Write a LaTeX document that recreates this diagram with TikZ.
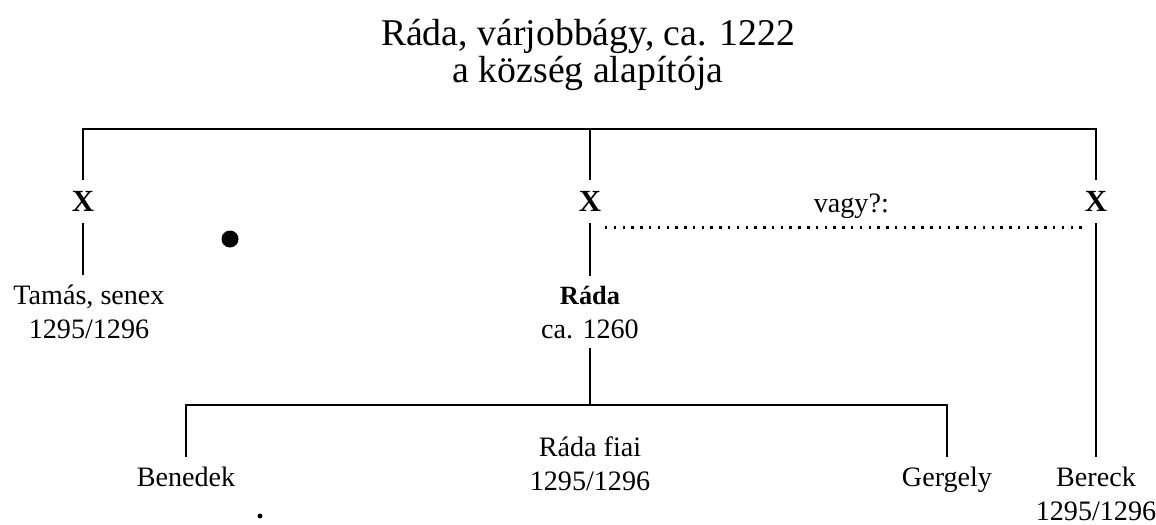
\documentclass[tikz,border=0pt]{standalone}
\usepackage{fontspec}
\setmainfont{Liberation Serif}
\usetikzlibrary{calc}

\begin{document}
\begin{tikzpicture}[x=0.02cm, y=-0.02cm,
    title/.style={anchor=base, align=center, inner sep=0pt,
                  font=\fontsize{21.5}{19.3}\selectfont},
    person/.style={anchor=base, align=center, inner sep=5.2pt,
                   font=\fontsize{16}{19.3}\selectfont},
    xnode/.style={inner sep=0pt, minimum height=0.86cm,
                  font=\fontsize{17.5}{20}\bfseries\selectfont},
    line/.style={line width=1.4pt},
    dotline/.style={line width=1.4pt, dash pattern=on 1.4pt off 3.6pt}]

\useasboundingbox (0,0) rectangle (1156,524);

% head of the family (base = last line)
\node (founder) [title] at (588,82) {Ráda, várjobbágy, ca. 1222\\a község alapítója};
\coordinate (top) at (590,129);

% first generation (unknown names)
\node (xl) [xnode] at (83,201.5)   {X};
\node (xm) [xnode] at (590,201.5)  {X};
\node (xr) [xnode] at (1096,201.5) {X};

\node (tamas)  [person] at (89,338)   {Tamás, senex\\1295/1296};
\node (rada)   [person] at (590,338)  {{\fontsize{15}{19.3}\bfseries\selectfont Ráda}\\ca. 1260};
\node (bereck) [person] at (1096,520) {Bereck\\1295/1296};

% sons of Ráda
\coordinate (kids) at (590,405);
\node (benedek) [person] at (186,486) {Benedek};
\node (gergely) [person] at (947,486) {Gergely};
\node (fiai)    [person] at (590,490) {Ráda fiai\\1295/1296};

\draw [line] (xl.north) |- (top) -| (xr.north);
\draw [line] (top) -- (xm.north);
\draw [line] (xl.south) -- (xl.south |- tamas.north);
\draw [line] (xm.south) -- (xm.south |- rada.north);
\draw [line] (xr.south) -- (xr.south |- bereck.north);
\draw [line] (rada.south -| kids) -- (kids);
\draw [line] (benedek.north) |- (kids) -| (gergely.north);

\draw [dotline] ([shift={(15,4)}]xm.south) --
    node[pos=.51, anchor=base, yshift=0.3cm, inner sep=0pt,
         font=\fontsize{16}{19.3}\selectfont]{vagy?:}
    ([shift={(-8,4)}]xr.south);

% specks
\fill (230,239) circle[radius=0.17cm];
\fill (260,516) circle[radius=0.05cm];
\end{tikzpicture}
\end{document}
